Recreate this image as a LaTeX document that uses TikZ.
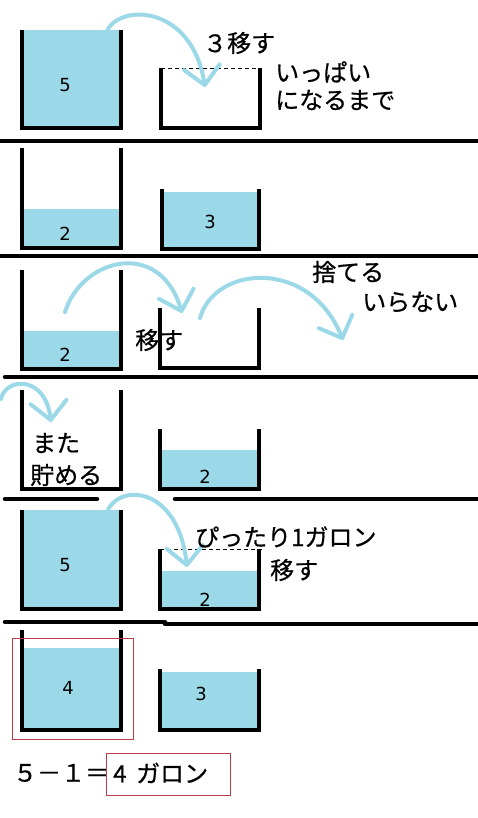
\documentclass[tikz,border=0pt]{standalone}
\usepackage{fontspec}
\newfontfamily\jpfont[FakeBold=0.6]{Noto Sans CJK JP}
\newfontfamily\numfont{DejaVu Sans}
\usetikzlibrary{arrows.meta}
\definecolor{wcyan}{RGB}{155,217,232}
\definecolor{markred}{RGB}{190,60,70}

\begin{document}
\begin{tikzpicture}[
  x=1pt, y=-1pt,
  wall/.style={line width=3.5pt},
  sep/.style={line width=4.5pt, line cap=round},
  brim/.style={line width=0.8pt, dash pattern=on 4pt off 3pt},
  pour/.style={wcyan, line width=4pt, line cap=round,
    -{Straight Barb[length=18pt,width=36pt,round]}},
  note/.style={anchor=west, inner sep=0pt, font=\jpfont\fontsize{24}{28}\selectfont},
  num/.style={inner sep=0pt, font=\numfont\fontsize{18}{20}\selectfont},
  hilite/.style={draw=markred, line width=0.9pt}
]
\useasboundingbox (0,0) rectangle (478,818);

% buckets: number / left / right / top / bottom / water level
\foreach \n/\xa/\xb/\yt/\yb/\yw in {
   1/22/121/30/128/30,     2/161/260/68/128/128,
   3/22/121/148/248/209,   4/162/259/189/249/192,
   5/22/121/270/369/331,   6/160/259/308/368/368,
   7/22/121/390/489/489,   8/160/259/429/489/450,
   9/22/121/510/609/510,  10/160/259/549/609/571,
  11/22/121/630/730/648,  12/160/259/669/730/672}{
  \fill[wcyan] (\xa,\yw) rectangle (\xb,\yb);
  \draw[wall] (\xa,\yt) -- (\xa,\yb) -- (\xb,\yb) -- (\xb,\yt);
}
\draw[brim] (161,68) -- (262,68);
\draw[brim] (160,549) -- (262,549);

% amounts
\node[num] (v1) at (65,85) {5};
\node[num] (v3) at (65,234) {2};
\node[num] (v4) at (210,222) {3};
\node[num] (v5) at (65,355) {2};
\node[num] (v8) at (205,477) {2};
\node[num] (v9) at (65,565) {5};
\node[num] (v10) at (205,600) {2};
\node[num] (v11) at (68,688) {4};
\node[num] (v12) at (201,694) {3};

% separators
\draw[sep] (0,141) -- (478,141);
\draw[sep] (0,256) -- (478,256);
\draw[sep] (5,377) -- (478,377);
\draw[sep] (5,499) -- (97,499);
\draw[sep] (175,499) -- (478,499);
\draw[sep] (5,622) -- (165,622);
\draw[sep] (165,624) -- (478,624);

% pouring
\coordinate (p1s) at (107,31);   \coordinate (p1e) at (205,87);
\coordinate (p2s) at (65,312);   \coordinate (p2e) at (182,313);
\coordinate (p3s) at (200,318);  \coordinate (p3e) at (343,340);
\coordinate (p4s) at (1,399);    \coordinate (p4e) at (51,422);
\coordinate (p5s) at (107,512);  \coordinate (p5e) at (187,567);
\draw[pour] (p1s) .. controls (120,3) and (192,5) .. (p1e);
\draw[pour] (p2s) .. controls (82,258) and (160,238) .. (p2e);
\draw[pour] (p3s) .. controls (215,265) and (310,258) .. (p3e);
\draw[pour] (p4s) .. controls (5,378) and (45,374) .. (p4e);
\draw[pour] (p5s) .. controls (118,483) and (178,485) .. (p5e);

% notes
\node[note] (t1) at (203,43) {３移す};
\node[note] (t2) at (275,72) {いっぱい};
\node[note] (t3) at (275,100) {になるまで};
\node[note] (t4) at (135,340) {移す};
\node[note] (t5) at (312,272) {捨てる};
\node[note] (t6) at (362,302) {いらない};
\node[note] (t7) at (32,443) {また};
\node[note] (t8) at (30,475) {貯める};
\node[note] (t9) at (195,537) {ぴったり1ガロン};
\node[note] (t10) at (270,570) {移す};

% result
\draw[hilite] (12,638) rectangle (133,739);
\node[note] (eq) at (13,773) {５－１＝};
\node[note] (ans) at (113,773) {4\hspace{0.4em}ガロン};
\draw[hilite] (106,753) rectangle (230,795);
\end{tikzpicture}
\end{document}
